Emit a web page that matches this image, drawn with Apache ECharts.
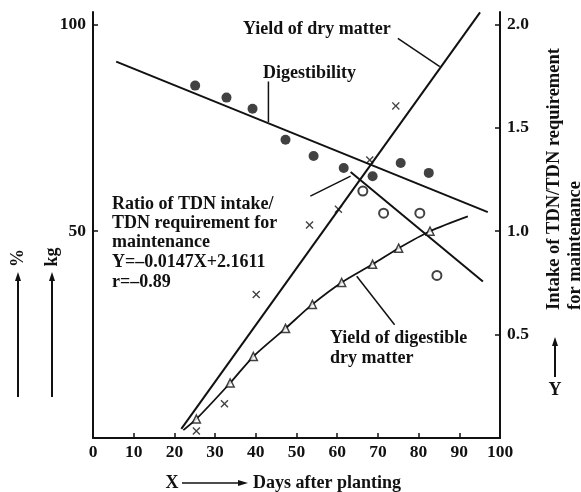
<!DOCTYPE html>
<html><head><meta charset="utf-8">
<script src="https://cdn.jsdelivr.net/npm/echarts@6/dist/echarts.min.js"></script>
<style>html,body{margin:0;padding:0;background:#fff}#c{width:581px;height:492px}</style>
</head><body><div id="c"></div>
<script>
// ---- data ----
var xTicks = [0,10,20,30,40,50,60,70,80,90,100];
var leftTicks = [50,100];
var rightTicks = [0.5,1.0,1.5,2.0];
// Digestibility (%) – filled circles
var digestibility = [[25.1,85.2],[32.8,82.3],[39.2,79.6],[47.3,72.1],[54.2,68.2],[61.6,65.3],[68.7,63.3],[75.6,66.5],[82.5,64.1]];
var digestibilityLine = [[5.7,91.0],[97.0,54.6]];
// Yield of dry matter (kg) – crosses
var dryMatter = [[25.4,1.7],[32.3,8.3],[40.1,34.7],[53.2,51.5],[60.3,55.3],[68.0,67.2],[74.4,80.3]];
var dryMatterLine = [[21.7,2.2],[95.1,102.9]];
// Yield of digestible dry matter (kg) – triangles
var digestibleDM = [[25.4,4.6],[33.7,13.3],[39.4,19.7],[47.3,26.5],[53.9,32.3],[61.1,37.6],[68.7,42.0],[75.1,45.9],[82.8,50.0]];
var digestibleCurve = [[22.2,1.9],[25.4,4.6],[33.7,13.3],[39.4,19.7],[47.3,26.5],[53.9,32.3],[61.1,37.6],[68.7,42.0],[75.1,45.9],[82.8,50.0],[92.1,53.6]];
// Ratio of TDN intake / TDN requirement (right axis) – open circles
var tdnRatio = [[66.3,1.194],[71.4,1.087],[80.3,1.087],[84.5,0.786]];
var tdnLine = [[63.3,1.286],[95.8,0.757]];

var FONT = 'Liberation Serif';
var F18 = 'bold 18px "'+FONT+'"';
var chart = echarts.init(document.getElementById('c'), null, {renderer:'canvas'});
var crossPath = 'path://M0,1.2L1.2,0L5,3.8L8.8,0L10,1.2L6.2,5L10,8.8L8.8,10L5,6.2L1.2,10L0,8.8L3.8,5Z';
var axisCommon = {
  axisLine:{show:true,lineStyle:{color:'#111',width:2}},
  axisTick:{show:true,inside:true,length:5,lineStyle:{color:'#111',width:1.5}},
  splitLine:{show:false},
  axisLabel:{color:'#111',fontFamily:FONT,fontSize:17.5,fontWeight:'bold'}
};
var option = {
  animation:false,
  backgroundColor:'#fff',
  grid:{left:93,right:81,top:12,bottom:54},
  xAxis:Object.assign({}, axisCommon, {type:'value',min:0,max:100,interval:10,
    axisLabel:Object.assign({},axisCommon.axisLabel,{margin:5,customValues:xTicks}),
    axisTick:Object.assign({},axisCommon.axisTick,{customValues:xTicks.slice(1,10)})}),
  yAxis:[
    Object.assign({}, axisCommon, {type:'value',min:0,max:103,position:'left',
      axisLabel:Object.assign({},axisCommon.axisLabel,{margin:7,customValues:leftTicks}),
      axisTick:Object.assign({},axisCommon.axisTick,{customValues:leftTicks})}),
    Object.assign({}, axisCommon, {type:'value',min:0,max:2.06,position:'right',
      axisLabel:Object.assign({},axisCommon.axisLabel,{margin:7,customValues:rightTicks,formatter:function(v){return v.toFixed(1);}}),
      axisTick:Object.assign({},axisCommon.axisTick,{customValues:rightTicks})})
  ],
  series:[
    {type:'line',data:digestibilityLine,yAxisIndex:0,showSymbol:false,lineStyle:{color:'#111',width:2},z:2},
    {type:'line',data:dryMatterLine,yAxisIndex:0,showSymbol:false,lineStyle:{color:'#111',width:2},z:2},
    {type:'line',data:tdnLine,yAxisIndex:1,showSymbol:false,lineStyle:{color:'#111',width:2},z:2},
    {type:'line',data:digestibleCurve,yAxisIndex:0,showSymbol:false,smooth:0.3,lineStyle:{color:'#111',width:1.8},z:2},
    {type:'scatter',data:digestibility,yAxisIndex:0,symbol:'circle',symbolSize:10,itemStyle:{color:'#111'},z:3},
    {type:'scatter',data:dryMatter,yAxisIndex:0,symbol:crossPath,symbolSize:8,itemStyle:{color:'#111'},z:3},
    {type:'scatter',data:digestibleDM,yAxisIndex:0,symbol:'triangle',symbolSize:8,itemStyle:{color:'#fff',borderColor:'#111',borderWidth:1.5},z:3},
    {type:'scatter',data:tdnRatio,yAxisIndex:1,symbol:'circle',symbolSize:9,itemStyle:{color:'#fff',borderColor:'#111',borderWidth:2},z:3}
  ]
};
chart.setOption(option);

function px(x,y){ return chart.convertToPixel({xAxisIndex:0,yAxisIndex:0},[x,y]); }
function leader(a,b){ var p=px(a[0],a[1]), q=px(b[0],b[1]);
  return {type:'line',shape:{x1:p[0],y1:p[1],x2:q[0],y2:q[1]},style:{stroke:'#111',lineWidth:1.5},z:10}; }
function txt(x,y,s,extra){ return Object.assign({type:'text',x:x,y:y,z:10,style:Object.assign({text:s,fill:'#111',font:F18,align:'left',verticalAlign:'middle',lineHeight:19.5},extra||{})}); }
function vArrow(x,y1,y2){ return [
  {type:'line',shape:{x1:x,y1:y1,x2:x,y2:y2+6},style:{stroke:'#111',lineWidth:2},z:10},
  {type:'polygon',shape:{points:[[x-3,y2+9],[x+3,y2+9],[x,y2]]},style:{fill:'#111'},z:10}]; }
var g = [
  leader([74.9,96.6],[85.2,89.8]),
  leader([43.1,86.2],[43.1,76.4]),
  leader([53.4,58.5],[63.3,63.3]),
  leader([64.8,39.1],[74.1,27.4]),
  txt(243,29,'Yield of dry matter'),
  txt(263,73,'Digestibility'),
  txt(112,204,'Ratio of TDN intake/'),
  txt(112,223,'TDN requirement for'),
  txt(112,242,'maintenance'),
  txt(112,262,'Y=\u20130.0147X+2.1611'),
  txt(112,282,'r=\u20130.89'),
  txt(330,338,'Yield of digestible'),
  txt(330,358,'dry matter'),
  {type:'text',x:18,y:258,rotation:Math.PI/2,z:10,style:{text:'%',fill:'#111',font:F18,align:'center',verticalAlign:'middle'}},
  {type:'text',x:52,y:257,rotation:Math.PI/2,z:10,style:{text:'kg',fill:'#111',font:F18,align:'center',verticalAlign:'middle'}},
  {type:'text',x:554,y:310,rotation:Math.PI/2,z:10,style:{text:'Intake of TDN/TDN requirement',fill:'#111',font:'bold 18.5px "'+FONT+'"',align:'left',verticalAlign:'middle'}},
  {type:'text',x:575,y:310,rotation:Math.PI/2,z:10,style:{text:'for maintenance',fill:'#111',font:'bold 18.5px "'+FONT+'"',align:'left',verticalAlign:'middle'}},
  txt(555,390,'Y',{align:'center'}),
  txt(172,483,'X',{align:'center'}),
  {type:'line',shape:{x1:182,y1:483,x2:242,y2:483},style:{stroke:'#111',lineWidth:1.5},z:10},
  {type:'polygon',shape:{points:[[238,480],[238,486],[248,483]]},style:{fill:'#111'},z:10},
  txt(253,483,'Days after planting')
];
g = g.concat(vArrow(18,397,272), vArrow(52,397,272), vArrow(555,377,337));
chart.setOption({graphic:g});
</script></body></html>
